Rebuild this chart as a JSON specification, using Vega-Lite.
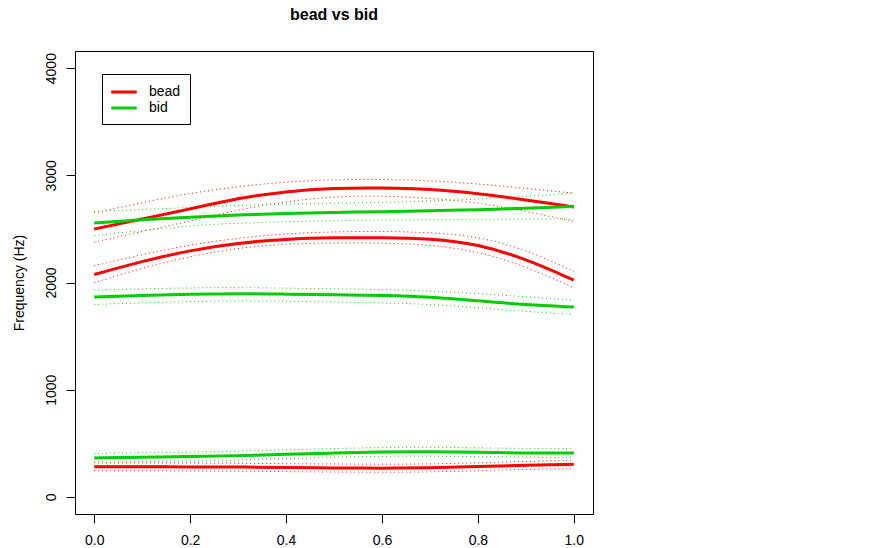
{
  "$schema": "https://vega.github.io/schema/vega-lite/v6.json",
  "autosize": {"type": "none"},
  "padding": {"left": 75, "top": 51, "right": 292, "bottom": 34},
  "width": 518,
  "height": 463,
  "background": "white",
  "title": {"text": "bead vs bid", "font": "Liberation Sans", "fontSize": 16, "fontWeight": "bold", "color": "black", "anchor": "middle", "offset": 28},
  "config": {
    "view": {"stroke": "black", "strokeWidth": 1},
    "axis": {"grid": false, "domain": false, "tickColor": "black", "tickSize": 9, "labelFont": "Liberation Sans", "labelFontSize": 13.5, "labelColor": "black", "titleFont": "Liberation Sans", "titleFontSize": 13.5, "titleFontWeight": "normal", "titleColor": "black"},
    "legend": {"labelFont": "Liberation Sans", "labelFontSize": 13.5, "labelColor": "black"}
  },
  "data": {"values": [
    {"t":0.0,"word":"bead","f":"F1","mean":282,"hi":318,"lo":244},
    {"t":0.1,"word":"bead","f":"F1","mean":282,"hi":318,"lo":244},
    {"t":0.2,"word":"bead","f":"F1","mean":279,"hi":315,"lo":241},
    {"t":0.3,"word":"bead","f":"F1","mean":279,"hi":315,"lo":241},
    {"t":0.4,"word":"bead","f":"F1","mean":273,"hi":309,"lo":235},
    {"t":0.5,"word":"bead","f":"F1","mean":270,"hi":306,"lo":232},
    {"t":0.6,"word":"bead","f":"F1","mean":267,"hi":303,"lo":229},
    {"t":0.7,"word":"bead","f":"F1","mean":270,"hi":306,"lo":232},
    {"t":0.8,"word":"bead","f":"F1","mean":282,"hi":318,"lo":244},
    {"t":0.9,"word":"bead","f":"F1","mean":295,"hi":331,"lo":256},
    {"t":1.0,"word":"bead","f":"F1","mean":304,"hi":342,"lo":262},
    {"t":0.0,"word":"bead","f":"F2","mean":2074,"hi":2158,"lo":1997},
    {"t":0.1,"word":"bead","f":"F2","mean":2198,"hi":2260,"lo":2136},
    {"t":0.2,"word":"bead","f":"F2","mean":2301,"hi":2353,"lo":2245},
    {"t":0.3,"word":"bead","f":"F2","mean":2369,"hi":2416,"lo":2322},
    {"t":0.4,"word":"bead","f":"F2","mean":2406,"hi":2456,"lo":2363},
    {"t":0.5,"word":"bead","f":"F2","mean":2419,"hi":2474,"lo":2369},
    {"t":0.6,"word":"bead","f":"F2","mean":2419,"hi":2478,"lo":2369},
    {"t":0.7,"word":"bead","f":"F2","mean":2412,"hi":2468,"lo":2353},
    {"t":0.8,"word":"bead","f":"F2","mean":2360,"hi":2431,"lo":2291},
    {"t":0.9,"word":"bead","f":"F2","mean":2220,"hi":2307,"lo":2152},
    {"t":1.0,"word":"bead","f":"F2","mean":2022,"hi":2105,"lo":1950},
    {"t":0.0,"word":"bead","f":"F3","mean":2499,"hi":2648,"lo":2375},
    {"t":0.1,"word":"bead","f":"F3","mean":2592,"hi":2747,"lo":2478},
    {"t":0.2,"word":"bead","f":"F3","mean":2685,"hi":2834,"lo":2571},
    {"t":0.3,"word":"bead","f":"F3","mean":2788,"hi":2896,"lo":2679},
    {"t":0.4,"word":"bead","f":"F3","mean":2850,"hi":2940,"lo":2757},
    {"t":0.5,"word":"bead","f":"F3","mean":2881,"hi":2961,"lo":2803},
    {"t":0.6,"word":"bead","f":"F3","mean":2884,"hi":2964,"lo":2809},
    {"t":0.7,"word":"bead","f":"F3","mean":2872,"hi":2952,"lo":2788},
    {"t":0.8,"word":"bead","f":"F3","mean":2831,"hi":2921,"lo":2747},
    {"t":0.9,"word":"bead","f":"F3","mean":2772,"hi":2878,"lo":2664},
    {"t":1.0,"word":"bead","f":"F3","mean":2704,"hi":2834,"lo":2571},
    {"t":0.0,"word":"bid","f":"F1","mean":363,"hi":405,"lo":323},
    {"t":0.1,"word":"bid","f":"F1","mean":369,"hi":411,"lo":329},
    {"t":0.2,"word":"bid","f":"F1","mean":375,"hi":417,"lo":335},
    {"t":0.3,"word":"bid","f":"F1","mean":384,"hi":426,"lo":344},
    {"t":0.4,"word":"bid","f":"F1","mean":397,"hi":439,"lo":357},
    {"t":0.5,"word":"bid","f":"F1","mean":409,"hi":451,"lo":369},
    {"t":0.6,"word":"bid","f":"F1","mean":419,"hi":461,"lo":379},
    {"t":0.7,"word":"bid","f":"F1","mean":422,"hi":464,"lo":382},
    {"t":0.8,"word":"bid","f":"F1","mean":415,"hi":457,"lo":375},
    {"t":0.9,"word":"bid","f":"F1","mean":409,"hi":451,"lo":369},
    {"t":1.0,"word":"bid","f":"F1","mean":409,"hi":452,"lo":369},
    {"t":0.0,"word":"bid","f":"F2","mean":1864,"hi":1929,"lo":1795},
    {"t":0.1,"word":"bid","f":"F2","mean":1879,"hi":1941,"lo":1811},
    {"t":0.2,"word":"bid","f":"F2","mean":1891,"hi":1950,"lo":1823},
    {"t":0.3,"word":"bid","f":"F2","mean":1898,"hi":1953,"lo":1829},
    {"t":0.4,"word":"bid","f":"F2","mean":1891,"hi":1947,"lo":1826},
    {"t":0.5,"word":"bid","f":"F2","mean":1885,"hi":1941,"lo":1817},
    {"t":0.6,"word":"bid","f":"F2","mean":1879,"hi":1935,"lo":1811},
    {"t":0.7,"word":"bid","f":"F2","mean":1867,"hi":1919,"lo":1798},
    {"t":0.8,"word":"bid","f":"F2","mean":1829,"hi":1898,"lo":1764},
    {"t":0.9,"word":"bid","f":"F2","mean":1792,"hi":1867,"lo":1730},
    {"t":1.0,"word":"bid","f":"F2","mean":1771,"hi":1836,"lo":1702},
    {"t":0.0,"word":"bid","f":"F3","mean":2555,"hi":2664,"lo":2437},
    {"t":0.1,"word":"bid","f":"F3","mean":2586,"hi":2679,"lo":2487},
    {"t":0.2,"word":"bid","f":"F3","mean":2611,"hi":2701,"lo":2530},
    {"t":0.3,"word":"bid","f":"F3","mean":2629,"hi":2719,"lo":2555},
    {"t":0.4,"word":"bid","f":"F3","mean":2645,"hi":2732,"lo":2567},
    {"t":0.5,"word":"bid","f":"F3","mean":2654,"hi":2741,"lo":2577},
    {"t":0.6,"word":"bid","f":"F3","mean":2660,"hi":2747,"lo":2583},
    {"t":0.7,"word":"bid","f":"F3","mean":2670,"hi":2760,"lo":2586},
    {"t":0.8,"word":"bid","f":"F3","mean":2679,"hi":2778,"lo":2589},
    {"t":0.9,"word":"bid","f":"F3","mean":2691,"hi":2803,"lo":2592},
    {"t":1.0,"word":"bid","f":"F3","mean":2710,"hi":2834,"lo":2592}
  ]},
  "layer": [
    {
      "transform": [{"fold": ["hi", "lo"], "as": ["band", "hz"]}],
      "mark": {"type": "line", "interpolate": "basis", "strokeWidth": 1, "strokeDash": [1, 3]},
      "encoding": {
        "x": {"field": "t", "type": "quantitative", "scale": {"domain": [-0.04, 1.04], "nice": false, "zero": false}, "axis": {"values": [0, 0.2, 0.4, 0.6, 0.8, 1.0], "format": ".1f", "title": null, "labelPadding": 10, "labelFontSize": 14, "labelFont": "Liberation Sans"}},
        "y": {"field": "hz", "type": "quantitative", "scale": {"domain": [-160, 4160], "nice": false, "zero": false}, "axis": {"values": [0, 1000, 2000, 3000, 4000], "format": "d", "labelAngle": 270, "labelPadding": 8, "labelFontSize": 14, "labelFont": "Liberation Sans", "title": "Frequency (Hz)", "titleFontSize": 14, "titleFont": "Liberation Sans", "titleFontWeight": "normal", "titlePadding": 18}},
        "color": {"field": "word", "type": "nominal", "scale": {"domain": ["bead", "bid"], "range": ["#FF0000", "#00CD00"]}},
        "detail": [{"field": "f"}, {"field": "band"}]
      }
    },
    {
      "mark": {"type": "line", "interpolate": "basis", "strokeWidth": 3},
      "encoding": {
        "x": {"field": "t", "type": "quantitative"},
        "y": {"field": "mean", "type": "quantitative"},
        "color": {"field": "word", "type": "nominal", "legend": {"title": null, "orient": "none", "legendX": 27, "legendY": 23, "symbolType": "M-1.7,0H1.7", "symbolSize": 225, "symbolStrokeWidth": 3, "symbolOffset": 4, "labelOffset": 16, "labelFontSize": 14, "labelFont": "Liberation Sans", "padding": 9, "strokeColor": "black", "rowPadding": 0}},
        "detail": {"field": "f"}
      }
    }
  ]
}
